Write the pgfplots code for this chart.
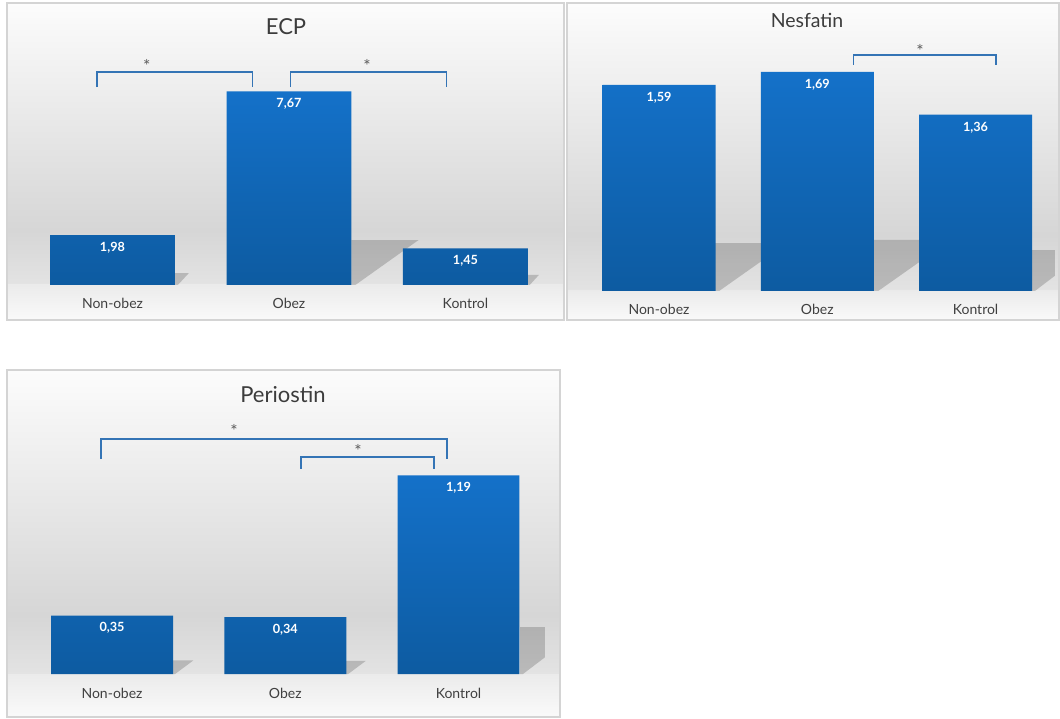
\documentclass[border=0pt]{standalone}
\usepackage{pgfplots}
\pgfplotsset{compat=1.18}
\usepackage{fontspec}
\setmainfont{Lato}

\definecolor{barTop}{HTML}{1471C9}
\definecolor{barBot}{HTML}{0D5BA1}
\definecolor{brk}{HTML}{3474B5}
\definecolor{lbl}{HTML}{404040}
\definecolor{ttl}{HTML}{3C3C3C}
\definecolor{frm}{HTML}{D4D4D4}
\definecolor{bgHi}{HTML}{FCFCFC}
\definecolor{bgMid}{HTML}{D6D6D6}
\definecolor{bgLow}{HTML}{E3E3E3}
\definecolor{flHi}{HTML}{EBEBEB}
\definecolor{flLow}{HTML}{FAFAFA}

\pgfplotsset{
  panel/.style={
    scale only axis, anchor=south west, clip=false,
    axis line style={draw=none},
    xmin=-0.5, xmax=2.5, ymin=0,
    xtick={0,1,2}, xticklabels={Non-obez,Obez,Kontrol},
    ytick=\empty, major tick length=0pt,
    xticklabel style={font=\fontsize{10.5}{12}\selectfont, text=lbl,
      anchor=base, yshift=-18pt},
  },
  bars/.style={
    ybar, bar width=#1, draw=none, top color=barTop, bottom color=barBot,
    nodes near coords={\pgfmathprintnumber[use comma,fixed,fixed zerofill,
      precision=2,assume math mode=true]{\pgfplotspointmeta}},
    every node near coord/.append style={anchor=center, yshift=-9.4pt,
      text=white, font=\bfseries\fontsize{9.5}{10}\selectfont},
  },
  shadow/.style={draw=none, fill=black, fill opacity=0.18},
}
\tikzset{
  bracket/.style={brk, line width=1.1pt},
  star/.style={text=lbl!85, font=\fontsize{13}{14}\selectfont, inner sep=0pt},
}

\begin{document}
\begin{tikzpicture}[x=0.75pt, y=0.75pt]
\useasboundingbox (0,0) rectangle (1060,718);
\fill[white] (0,0) rectangle (1060,718);

% panel backgrounds: wall gradient above the floor line, lighter floor below
% ECP
\shade[top color=bgHi, bottom color=bgMid] (7,488) rectangle (564,715);
\shade[top color=bgMid, bottom color=bgLow] (7,433) rectangle (564,488);
\shade[top color=flHi, bottom color=flLow] (7,398) rectangle (564,433);
\draw[frm, line width=1.1pt] (7,398) rectangle (564,715);
% Nesfatin
\shade[top color=bgHi, bottom color=bgMid] (567,483) rectangle (1059,715);
\shade[top color=bgMid, bottom color=bgLow] (567,427) rectangle (1059,483);
\shade[top color=flHi, bottom color=flLow] (567,398) rectangle (1059,427);
\draw[frm, line width=1.1pt] (567,398) rectangle (1059,715);
% Periostin
\shade[top color=bgHi, bottom color=bgMid] (7,103) rectangle (560,348);
\shade[top color=bgMid, bottom color=bgLow] (7,44) rectangle (560,103);
\shade[top color=flHi, bottom color=flLow] (7,1) rectangle (560,44);
\draw[frm, line width=1.1pt] (7,1) rectangle (560,348);

% titles
\node[text=ttl, font=\fontsize{16.5}{18}\selectfont] at (286,691) {ECP};
\node[text=ttl, font=\fontsize{14.6}{16}\selectfont] at (807,698) {Nesfatin};
\node[text=ttl, font=\fontsize{16.5}{18}\selectfont] at (283,323) {Periostin};

% ---------------- ECP ----------------
\begin{axis}[panel, at={(18.19pt,324.75pt)}, width=397.1pt, height=183.7pt, ymax=9.7]
  \addplot[shadow] coordinates {(0.354,0) (0.354,0.475) (0.433,0.475) (0.370,0)} -- cycle;
  \addplot[shadow] coordinates {(1.354,0) (1.354,1.78) (1.734,1.78) (1.376,0)} -- cycle;
  \addplot[shadow] coordinates {(2.354,0) (2.354,0.40) (2.416,0.40) (2.364,0)} -- cycle;
  \addplot[bars=0.708] coordinates {(0,1.98) (1,7.67) (2,1.45)};
  \draw[bracket] (axis cs:-0.088,7.84) |- (axis cs:0.793,8.44) -- (axis cs:0.793,7.84);
  \draw[bracket] (axis cs:1.008,7.84) |- (axis cs:1.892,8.44) -- (axis cs:1.892,7.84);
  \node[star] at (axis cs:0.195,8.67) {*};
  \node[star] at (axis cs:1.442,8.67) {*};
\end{axis}

% ---------------- Nesfatin ----------------
\begin{axis}[panel, at={(434.9pt,320.25pt)}, width=356.1pt, height=194.4pt, ymax=2.0]
  \addplot[shadow] coordinates {(0.354,0) (0.354,0.370) (0.809,0.370) (0.380,0)} -- cycle;
  \addplot[shadow] coordinates {(1.357,0) (1.357,0.394) (1.843,0.394) (1.385,0)} -- cycle;
  \addplot[shadow] coordinates {(2.357,0) (2.357,0.316) (2.502,0.316) (2.502,0.118) (2.375,0)} -- cycle;
  \addplot[bars=0.714] coordinates {(0,1.59) (1,1.69) (2,1.36)};
  \draw[bracket] (axis cs:1.230,1.744) |- (axis cs:2.130,1.821) -- (axis cs:2.130,1.744);
  \node[star] at (axis cs:1.65,1.852) {*};
\end{axis}

% ---------------- Periostin ----------------
\begin{axis}[panel, at={(19.05pt,33pt)}, width=389.8pt, height=194.1pt, ymax=1.55]
  \addplot[shadow] coordinates {(0.352,0) (0.352,0.081) (0.469,0.081) (0.364,0)} -- cycle;
  \addplot[shadow] coordinates {(1.351,0) (1.351,0.078) (1.464,0.078) (1.363,0)} -- cycle;
  \addplot[shadow] coordinates {(2.355,0) (2.355,0.281) (2.499,0.281) (2.499,0.100) (2.372,0)} -- cycle;
  \addplot[bars=0.704] coordinates {(0,0.35) (1,0.34) (2,1.19)};
  \draw[bracket] (axis cs:-0.063,1.287) |- (axis cs:1.934,1.407) -- (axis cs:1.934,1.287);
  \draw[bracket] (axis cs:1.091,1.228) |- (axis cs:1.859,1.299) -- (axis cs:1.859,1.228);
  \node[star] at (axis cs:0.704,1.455) {*};
  \node[star] at (axis cs:1.420,1.335) {*};
\end{axis}
\end{tikzpicture}
\end{document}
